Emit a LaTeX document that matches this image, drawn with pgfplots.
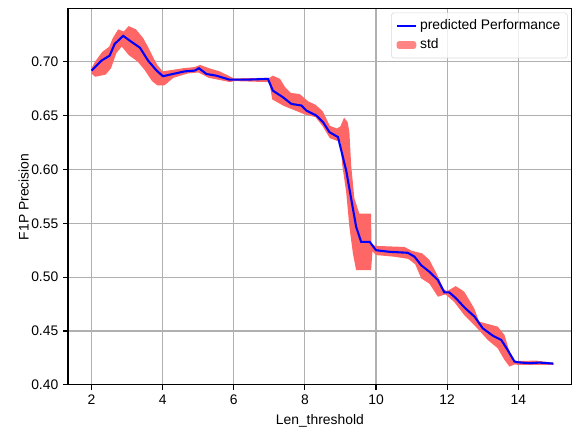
\documentclass[border={10pt 2pt 2pt 6pt}]{standalone}
\usepackage{fontspec}
\setmainfont{Liberation Sans}
\usepackage{pgfplots}
\pgfplotsset{compat=1.18}

\definecolor{gridgray}{HTML}{B0B0B0}
\definecolor{bandred}{HTML}{FF6666}

\begin{document}
\begin{tikzpicture}
\begin{axis}[
    width=363pt, height=271pt,
    scale only axis,
    xmin=1.34, xmax=15.5,
    ymin=0.40, ymax=0.749,
    xtick={2,4,...,14},
    ytick={0.40,0.45,...,0.70},
    yticklabel style={/pgf/number format/.cd, fixed, fixed zerofill, precision=2},
    /pgf/number format/assume math mode=true,
    tick align=outside,
    tick pos=left,
    major tick length=3.5pt,
    grid=major,
    major grid style={gridgray, line width=0.8pt},
    axis line style={line width=0.8pt},
    every tick/.style={black, line width=0.8pt},
    tick label style={font=\fontsize{10}{12}\selectfont},
    label style={font=\fontsize{10}{12}\selectfont},
    xlabel={Len\_threshold},
    ylabel={F1P Precision},
    ylabel shift=-5pt,
    reverse legend,
    legend cell align=left,
    legend style={at={(0.992,0.99)}, anchor=north east, draw=black!15,
        rounded corners=2pt, fill=white, fill opacity=0.8, text opacity=1,
        font=\fontsize{10}{12}\selectfont, inner sep=3pt, row sep=1pt},
    legend image code/.code={\draw[#1] (0cm,0cm) -- (0.5cm,0cm);},
]
% std band: upper edge left to right, lower edge right to left
\addplot[draw=none, fill=bandred, area legend,
    legend image code/.code={\fill[bandred] (0cm,-0.1cm) rectangle (0.5cm,0.1cm);}]
coordinates {
(2.0,0.694) (2.1,0.700) (2.3,0.709) (2.5,0.714) (2.6,0.722) (2.75,0.730)
(2.9,0.728) (3.05,0.733) (3.25,0.730) (3.45,0.722) (3.6,0.713) (3.75,0.703)
(3.85,0.697) (4.0,0.691) (4.3,0.6925) (4.6,0.694) (4.9,0.695) (5.05,0.697)
(5.3,0.694) (5.6,0.691) (5.85,0.687) (6.0,0.6845) (7.0,0.685) (7.1,0.687)
(7.3,0.684) (7.45,0.676) (7.6,0.671) (7.85,0.670) (8.1,0.663) (8.3,0.660)
(8.5,0.654) (8.7,0.6405) (8.9,0.638) (9.0,0.640) (9.1,0.648) (9.2,0.644)
(9.25,0.635) (9.3,0.604) (9.39,0.573) (9.53,0.559) (9.86,0.559) (9.87,0.530)
(10.0,0.529) (10.8,0.528) (11.0,0.5245) (11.3,0.522) (11.5,0.516) (11.7,0.5034)
(11.9,0.489) (12.0,0.487) (12.24,0.4917) (12.48,0.4865) (12.76,0.471) (12.9,0.4587)
(13.2,0.456) (13.42,0.4541) (13.61,0.4463) (13.75,0.431) (13.85,0.4217) (14.0,0.4222)
(14.5,0.4225) (15.0,0.4205)
(15.0,0.4185) (14.0,0.4185) (13.9,0.419) (13.75,0.417) (13.61,0.4232) (13.42,0.434)
(13.14,0.4417) (12.76,0.4556) (12.48,0.4648) (12.19,0.4772) (11.95,0.484) (11.74,0.4818)
(11.5,0.494) (11.27,0.4988) (11.1,0.512) (10.9,0.517) (10.5,0.519) (10.0,0.5205)
(9.9,0.524) (9.86,0.5065) (9.44,0.5065) (9.35,0.522) (9.25,0.5467) (9.16,0.579)
(9.05,0.604) (9.0,0.6254) (8.95,0.626) (8.7,0.629) (8.5,0.640) (8.3,0.6485)
(8.0,0.651) (7.7,0.655) (7.4,0.659) (7.08,0.665) (7.0,0.681) (6.0,0.682)
(5.9,0.681) (5.6,0.683) (5.3,0.685) (5.0,0.690) (4.7,0.689) (4.3,0.685)
(4.05,0.678) (3.85,0.678) (3.7,0.682) (3.5,0.692) (3.3,0.700) (3.05,0.706)
(2.85,0.714) (2.7,0.708) (2.55,0.694) (2.4,0.688) (2.1,0.686) (2.0,0.689)
};
\addlegendentry{std}
% mean line
\addplot[blue, line width=1.5pt, mark=none] coordinates {
(2.0,0.6917) (2.28,0.701) (2.51,0.7056) (2.65,0.7164) (2.89,0.724) (3.08,0.7194)
(3.36,0.713) (3.59,0.701) (3.83,0.6917) (4.01,0.6865) (4.29,0.6886) (4.62,0.691)
(4.9,0.6917) (5.02,0.6939) (5.23,0.6886) (5.51,0.687) (5.88,0.6833) (6.35,0.6833)
(6.96,0.684) (7.1,0.6731) (7.38,0.667) (7.62,0.6608) (7.9,0.6593) (8.04,0.6546)
(8.32,0.650) (8.51,0.6439) (8.69,0.6346) (8.93,0.630) (9.16,0.599) (9.3,0.5729)
(9.44,0.5467) (9.58,0.5328) (9.82,0.5328) (10.0,0.525) (10.38,0.5235) (10.89,0.5226)
(11.08,0.519) (11.27,0.511) (11.5,0.505) (11.74,0.4972) (11.92,0.4858) (12.06,0.4858)
(12.25,0.4803) (12.49,0.4717) (12.77,0.4633) (13.0,0.4525) (13.28,0.4457) (13.52,0.4417)
(13.7,0.4324) (13.89,0.4217) (13.98,0.421) (14.31,0.4201) (14.59,0.4207) (14.97,0.4198)
};
\addlegendentry{predicted Performance}
\end{axis}
\end{tikzpicture}
\end{document}
